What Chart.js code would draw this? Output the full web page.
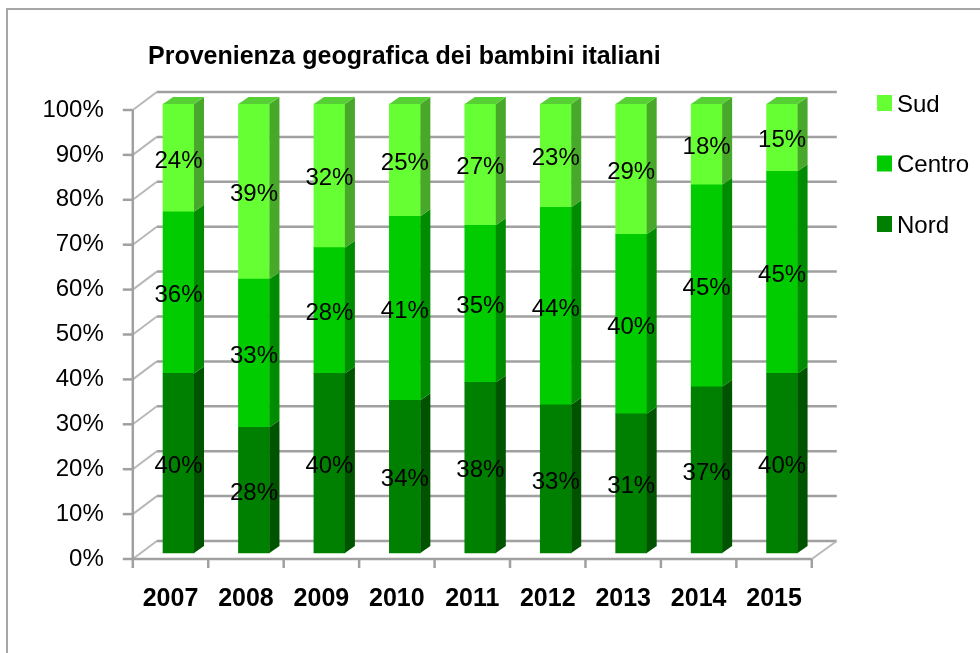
<!DOCTYPE html>
<html>
<head>
<meta charset="utf-8">
<script src="https://cdn.jsdelivr.net/npm/chart.js@4/dist/chart.umd.min.js"></script>
<style>
html,body{margin:0;padding:0;background:#fff;}
#wrap{width:980px;height:653px;}
</style>
</head>
<body>
<div id="wrap"><canvas id="c" width="980" height="653"></canvas></div>
<script>
const chartTitle = 'Provenienza geografica dei bambini italiani';
const categories = ['2007', '2008', '2009', '2010', '2011', '2012', '2013', '2014', '2015'];
const nordValues = [40, 28, 40, 34, 38, 33, 31, 37, 40];
const centroValues = [36, 33, 28, 41, 35, 44, 40, 45, 45];
const sudValues = [24, 39, 32, 25, 27, 23, 29, 18, 15];
const yTickLabels = ['0%', '10%', '20%', '30%', '40%', '50%', '60%', '70%', '80%', '90%', '100%'];

const FONT = '"Liberation Sans", Arial, sans-serif';
const frontColors = ['#008000', '#00cc00', '#66ff33'];
const sideColors = ['#005400', '#008c00', '#48a82a'];
const topColor = '#56d034';

function seg(ctx, x1, y1, x2, y2) {
  ctx.beginPath(); ctx.moveTo(x1, y1); ctx.lineTo(x2, y2); ctx.stroke();
}

const view3d = {
  id: 'view3d',
  beforeDraw(chart) {
    const ctx = chart.ctx;
    ctx.save();
    ctx.fillStyle = '#ffffff';
    ctx.fillRect(0, 0, chart.width, chart.height);
    ctx.strokeStyle = '#a6a6a6';
    ctx.lineWidth = 2;
    ctx.strokeRect(7, 9, chart.width + 40, chart.height + 40);
    ctx.fillStyle = '#000';
    ctx.font = 'bold 25px ' + FONT;
    ctx.textBaseline = 'middle';
    ctx.textAlign = 'left';
    ctx.fillText(chartTitle, 148, 57);
    ctx.restore();
  },
  beforeDatasetsDraw(chart) {
    const ctx = chart.ctx, a = chart.chartArea, y = chart.scales.y;
    const fx0 = a.left - 8, fx1 = a.right - 8;
    const bx0 = fx0 + 24, bx1 = fx1 + 25;
    const fOff = 6, bOff = -12;
    const p0 = y.getPixelForValue(0), p100 = y.getPixelForValue(100);
    ctx.save();
    ctx.lineCap = 'butt';
    // side wall diagonals
    ctx.strokeStyle = '#b8b8b8'; ctx.lineWidth = 2;
    y.ticks.forEach(t => {
      const p = y.getPixelForValue(t.value);
      seg(ctx, fx0, p + fOff, bx0, p + bOff);
    });
    // back wall gridlines
    ctx.strokeStyle = '#a0a0a0'; ctx.lineWidth = 2.5;
    y.ticks.forEach(t => {
      const p = y.getPixelForValue(t.value);
      seg(ctx, bx0, p + bOff, bx1, p + bOff);
    });
    // floor
    ctx.strokeStyle = '#a0a0a0'; ctx.lineWidth = 2.5;
    seg(ctx, fx0, p0 + fOff, fx1, p0 + fOff);
    ctx.strokeStyle = '#b8b8b8'; ctx.lineWidth = 2;
    seg(ctx, fx1, p0 + fOff, bx1, p0 + bOff);
    // front vertical axis
    ctx.strokeStyle = '#a0a0a0'; ctx.lineWidth = 2.5;
    seg(ctx, fx0, p100 + fOff, fx0, p0 + fOff + 9);
    y.ticks.forEach(t => {
      const p = y.getPixelForValue(t.value);
      seg(ctx, fx0 - 10, p + fOff, fx0, p + fOff);
    });
    const n = categories.length;
    for (let i = 1; i <= n; i++) {
      const xx = fx0 + i * (fx1 - fx0) / n;
      seg(ctx, xx, p0 + fOff, xx, p0 + fOff + 9);
    }
    ctx.restore();
  },
  afterDatasetsDraw(chart) {
    const ctx = chart.ctx;
    const dx = 10, dy = -7;
    const nds = chart.data.datasets.length;
    ctx.save();
    chart.data.datasets.forEach((ds, di) => {
      const meta = chart.getDatasetMeta(di);
      meta.data.forEach((bar) => {
        const p = bar.getProps(['x', 'y', 'base', 'width'], true);
        const x1 = p.x - p.width / 2, x2 = p.x + p.width / 2;
        const top = Math.min(p.y, p.base), bot = Math.max(p.y, p.base);
        ctx.fillStyle = sideColors[di];
        ctx.beginPath();
        ctx.moveTo(x2, top); ctx.lineTo(x2 + dx, top + dy);
        ctx.lineTo(x2 + dx, bot + dy); ctx.lineTo(x2, bot);
        ctx.closePath(); ctx.fill();
        if (di === nds - 1) {
          ctx.fillStyle = topColor;
          ctx.beginPath();
          ctx.moveTo(x1, top); ctx.lineTo(x2, top);
          ctx.lineTo(x2 + dx, top + dy); ctx.lineTo(x1 + dx, top + dy);
          ctx.closePath(); ctx.fill();
        }
      });
    });
    // data labels
    ctx.fillStyle = '#000';
    ctx.font = '24px ' + FONT;
    ctx.textAlign = 'center';
    ctx.textBaseline = 'middle';
    chart.data.datasets.forEach((ds, di) => {
      const meta = chart.getDatasetMeta(di);
      meta.data.forEach((bar, i) => {
        const p = bar.getProps(['x', 'y', 'base'], true);
        ctx.fillText(ds.data[i] + '%', p.x, (p.y + p.base) / 2 + 3);
      });
    });
    // legend
    const order = [2, 1, 0];
    ctx.textAlign = 'left';
    order.forEach((di, k) => {
      const cy = 103 + k * 60.5;
      ctx.fillStyle = frontColors[di];
      ctx.fillRect(877, cy - 8, 15, 16);
      ctx.fillStyle = '#000';
      ctx.fillText(chart.data.datasets[di].label, 897, cy + 2);
    });
    ctx.restore();
  }
};

new Chart(document.getElementById('c'), {
  type: 'bar',
  data: {
    labels: categories,
    datasets: [
      { label: 'Nord', data: nordValues, backgroundColor: frontColors[0] },
      { label: 'Centro', data: centroValues, backgroundColor: frontColors[1] },
      { label: 'Sud', data: sudValues, backgroundColor: frontColors[2] }
    ]
  },
  options: {
    responsive: false,
    animation: false,
    devicePixelRatio: 1,
    layout: { padding: { left: 40.8, right: 160.2, top: 104, bottom: 0 } },
    datasets: { bar: { barThickness: 31, borderWidth: 0, clip: false } },
    plugins: {
      legend: { display: false },
      title: { display: false },
      tooltip: { enabled: false }
    },
    scales: {
      x: {
        stacked: true,
        offset: true,
        grid: { display: false, drawTicks: false },
        border: { display: false },
        ticks: {
          autoSkip: false, maxRotation: 0, minRotation: 0,
          padding: 31, labelOffset: -8,
          color: '#000',
          font: { family: FONT, size: 25, weight: 'bold' }
        },
        afterFit(scale) { scale.height = 100; }
      },
      y: {
        stacked: true,
        min: 0, max: 100,
        grid: { display: false, drawTicks: false },
        border: { display: false },
        ticks: {
          stepSize: 10,
          padding: 37,
          labelOffset: 6,
          color: '#000',
          font: { family: FONT, size: 24 },
          callback: (v, i) => yTickLabels[i]
        },
        afterFit(scale) { scale.width = 100; }
      }
    }
  },
  plugins: [view3d]
});
</script>
</body>
</html>
